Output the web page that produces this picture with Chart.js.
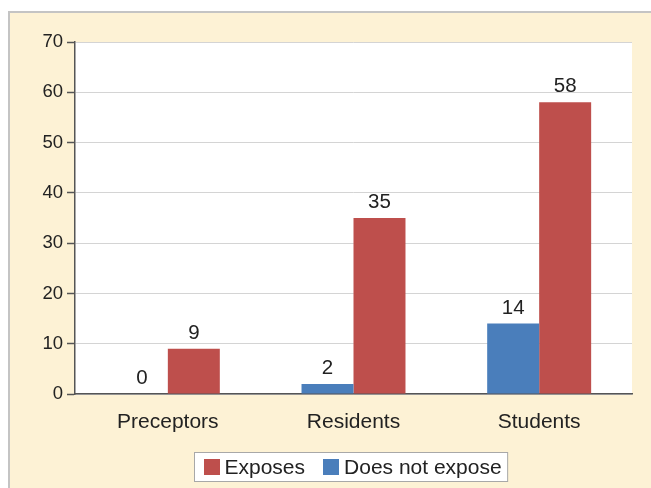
<!DOCTYPE html>
<html>
<head>
<meta charset="utf-8">
<script src="https://cdn.jsdelivr.net/npm/chart.js@4.4.1/dist/chart.umd.min.js"></script>
<style>
  html, body { margin: 0; padding: 0; background: #ffffff; }
  canvas { display: block; }
</style>
</head>
<body>
<canvas id="chart" width="651" height="488"></canvas>
<script>
// Respondent groups and counts
const categories = ['Preceptors', 'Residents', 'Students'];
const doesNotExpose = [0, 2, 14];
const exposes = [9, 35, 58];
const yTicks = [0, 10, 20, 30, 40, 50, 60, 70];

const FONT = '"Liberation Sans", Arial, Helvetica, sans-serif';
const RED = '#be4f4c';
const BLUE = '#4a7ebb';
const CREAM = '#fdf2d5';
const TEXT = '#222222';

// Cream panel with a white plotting area
const panelPlugin = {
  id: 'panel',
  beforeDraw(chart) {
    const { ctx, width, height, chartArea: a } = chart;
    ctx.save();
    ctx.fillStyle = '#ffffff';
    ctx.fillRect(0, 0, width, height);
    ctx.fillStyle = CREAM;
    ctx.fillRect(9, 12, width - 9, height - 12);
    ctx.strokeStyle = '#c4c4c4';
    ctx.lineWidth = 2;
    ctx.beginPath();
    ctx.moveTo(9, height);
    ctx.lineTo(9, 12);
    ctx.lineTo(width, 12);
    ctx.stroke();
    ctx.fillStyle = '#ffffff';
    ctx.fillRect(a.left, a.top, a.right - a.left, a.bottom - a.top);
    ctx.restore();
  }
};

// Value printed above each bar
const valueLabelPlugin = {
  id: 'valueLabels',
  afterDatasetsDraw(chart) {
    const { ctx } = chart;
    ctx.save();
    ctx.font = '20.5px ' + FONT;
    ctx.fillStyle = TEXT;
    ctx.textAlign = 'center';
    ctx.textBaseline = 'alphabetic';
    chart.data.datasets.forEach((ds, i) => {
      chart.getDatasetMeta(i).data.forEach((bar, j) => {
        ctx.fillText(String(ds.data[j]), bar.x, bar.y - 10);
      });
    });
    ctx.restore();
  }
};

// Boxed legend below the axis, series listed in reverse order
const boxLegendPlugin = {
  id: 'boxLegend',
  afterDraw(chart) {
    const { ctx, chartArea: a } = chart;
    const items = chart.data.datasets.map(ds => ({ label: ds.label, color: ds.backgroundColor })).reverse();
    ctx.save();
    ctx.font = '21px ' + FONT;
    const sq = 16, gapText = 5, gapItem = 18, padL = 9, padR = 6;
    let total = padL + padR;
    items.forEach((it, i) => {
      it.w = ctx.measureText(it.label).width;
      total += sq + gapText + it.w + (i < items.length - 1 ? gapItem : 0);
    });
    const boxH = 29;
    const cx = (a.left + a.right) / 2 - 3;
    const left = Math.round(cx - total / 2) + 0.5;
    const top = a.bottom + 58.5;
    ctx.fillStyle = '#ffffff';
    ctx.fillRect(left, top, total, boxH);
    ctx.strokeStyle = '#a8a8a8';
    ctx.lineWidth = 1;
    ctx.strokeRect(left, top, total, boxH);
    let x = left + padL;
    const midY = top + boxH / 2;
    ctx.textBaseline = 'middle';
    ctx.textAlign = 'left';
    items.forEach(it => {
      ctx.fillStyle = it.color;
      ctx.fillRect(Math.round(x), Math.round(midY - sq / 2), sq, sq);
      x += sq + gapText;
      ctx.fillStyle = TEXT;
      ctx.fillText(it.label, x, midY + 1);
      x += it.w + gapItem;
    });
    ctx.restore();
  }
};

new Chart(document.getElementById('chart'), {
  type: 'bar',
  data: {
    labels: categories,
    datasets: [
      { label: 'Does not expose', data: doesNotExpose, backgroundColor: BLUE },
      { label: 'Exposes', data: exposes, backgroundColor: RED }
    ]
  },
  plugins: [panelPlugin, valueLabelPlugin, boxLegendPlugin],
  options: {
    responsive: false,
    animation: false,
    events: [],
    layout: { padding: { left: 10, right: 19, top: 42, bottom: 0 } },
    datasets: {
      bar: { categoryPercentage: 0.56, barPercentage: 1, borderWidth: 0 }
    },
    plugins: {
      legend: { display: false },
      tooltip: { enabled: false }
    },
    scales: {
      x: {
        afterFit(scale) { scale.height = 94; },
        grid: { display: false },
        border: { display: true, color: '#555555', width: 1.5 },
        ticks: { color: TEXT, padding: 8, font: { family: FONT, size: 21 } }
      },
      y: {
        min: 0,
        max: 70,
        afterFit(scale) { scale.width = 65; },
        afterBuildTicks(scale) { scale.ticks = yTicks.map(v => ({ value: v })); },
        grid: { color: '#d4d4d4', lineWidth: 1, tickLength: 8, tickColor: '#555555', tickWidth: 1.5 },
        border: { display: true, color: '#555555', width: 1.5 },
        ticks: { color: TEXT, padding: 4, font: { family: FONT, size: 18.5 } }
      }
    }
  }
});
</script>
</body>
</html>
